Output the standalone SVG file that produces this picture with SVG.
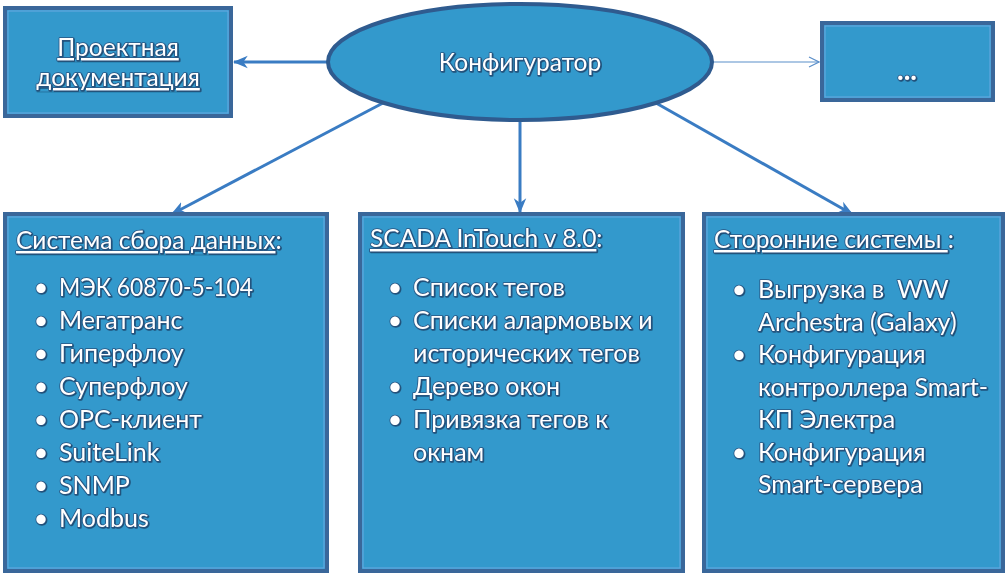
<svg xmlns="http://www.w3.org/2000/svg" width="1008" height="575" viewBox="0 0 1008 575">
<defs>
  <filter id="sh" x="-10%" y="-30%" width="120%" height="160%">
    <feDropShadow dx="0.8" dy="0.8" stdDeviation="0.6" flood-color="#17385c" flood-opacity="0.9"/>
  </filter>
  <marker id="ah" viewBox="0 0 12 10" refX="11" refY="5" markerWidth="5" markerHeight="4.5" orient="auto" markerUnits="strokeWidth">
    <path d="M0,0 L12,5 L0,10 L3.5,5 z" fill="#3a7cc3"/>
  </marker>
  <marker id="ahThin" viewBox="0 0 12 12" refX="11" refY="6" markerWidth="12" markerHeight="12" orient="auto" markerUnits="userSpaceOnUse">
    <path d="M1,1 L11,6 L1,11" fill="none" stroke="#5b8fc9" stroke-width="1.2"/>
  </marker>
</defs>
<style>
  .box { fill: #3399cc; stroke: #3a679a; stroke-width: 4; }
  .inner { fill: none; stroke: #6aa9e2; stroke-width: 1; }
  .t { font-family: Lato, "Liberation Sans", sans-serif; fill: #ffffff; stroke: #2a5785; stroke-width: 1.6; stroke-linejoin: round; paint-order: stroke; filter: url(#sh); }
  .h { font-size: 24.5px; }
  .i { font-size: 25px; }
  .b { font-size: 25px; }
  .u { text-decoration: underline; }
  .conn { fill: none; stroke: #3a7cc3; stroke-width: 3; }
  .thin { fill: none; stroke: #5b8fc9; stroke-width: 1.2; }
</style>
<rect width="1008" height="575" fill="#ffffff"/>

<g id="connectors">
  <line class="conn" x1="328" y1="62" x2="234" y2="62" marker-end="url(#ah)"/>
  <line class="thin" x1="712" y1="62" x2="819" y2="62" marker-end="url(#ahThin)"/>
  <line class="conn" x1="383" y1="103" x2="172" y2="214" marker-end="url(#ah)"/>
  <line class="conn" x1="520" y1="121" x2="520" y2="212" marker-end="url(#ah)"/>
  <line class="conn" x1="656" y1="103" x2="852" y2="214" marker-end="url(#ah)"/>
</g>

<g id="node-doc">
  <rect class="box" x="5" y="8" width="226" height="108"/>
  <rect class="inner" x="8" y="11" width="220" height="102"/>
  <text class="t h" x="118" y="56" text-anchor="middle"><tspan class="u">Проектная</tspan></text>
  <text class="t h" x="118" y="86" text-anchor="middle"><tspan class="u">документация</tspan></text>
</g>

<g id="node-configurator">
  <ellipse cx="520" cy="62" rx="192" ry="58" fill="#3399cc" stroke="#2f5b8f" stroke-width="4"/>
  <text class="t" x="520" y="71" font-size="24.5" text-anchor="middle">Конфигуратор</text>
</g>

<g id="node-more">
  <rect class="box" x="822" y="23" width="171" height="77"/>
  <rect class="inner" x="825" y="26" width="165" height="71"/>
  <text class="t" x="907" y="80" font-size="28" font-weight="bold" text-anchor="middle">...</text>
</g>

<g id="node-data">
  <rect class="box" x="5" y="214" width="322" height="357"/>
  <rect class="inner" x="8" y="217" width="316" height="351"/>
  <text class="t h" x="16" y="249"><tspan class="u">Система сбора данных</tspan>:</text>
  <g class="t b">
    <text x="41" y="296" text-anchor="middle">•</text>
    <text x="41" y="329" text-anchor="middle">•</text>
    <text x="41" y="362" text-anchor="middle">•</text>
    <text x="41" y="395" text-anchor="middle">•</text>
    <text x="41" y="428" text-anchor="middle">•</text>
    <text x="41" y="461" text-anchor="middle">•</text>
    <text x="41" y="494" text-anchor="middle">•</text>
    <text x="41" y="527" text-anchor="middle">•</text>
  </g>
  <g class="t i">
    <text x="59" y="296" textLength="194" lengthAdjust="spacingAndGlyphs">МЭК 60870-5-104</text>
    <text x="59" y="329">Мегатранс</text>
    <text x="59" y="362">Гиперфлоу</text>
    <text x="59" y="395">Суперфлоу</text>
    <text x="59" y="428">OPC-клиент</text>
    <text x="59" y="461">SuiteLink</text>
    <text x="59" y="494">SNMP</text>
    <text x="59" y="527">Modbus</text>
  </g>
</g>

<g id="node-scada">
  <rect class="box" x="360" y="214" width="323" height="357"/>
  <rect class="inner" x="363" y="217" width="317" height="351"/>
  <text class="t h" x="370" y="247"><tspan class="u">SCADA InTouch v 8.0</tspan>:</text>
  <g class="t b">
    <text x="395" y="296" text-anchor="middle">•</text>
    <text x="395" y="329" text-anchor="middle">•</text>
    <text x="395" y="395" text-anchor="middle">•</text>
    <text x="395" y="428" text-anchor="middle">•</text>
  </g>
  <g class="t i">
    <text x="413" y="296">Список тегов</text>
    <text x="413" y="329">Списки алармовых и</text>
    <text x="413" y="362">исторических тегов</text>
    <text x="413" y="395">Дерево окон</text>
    <text x="413" y="428">Привязка тегов к</text>
    <text x="413" y="461">окнам</text>
  </g>
</g>

<g id="node-third">
  <rect class="box" x="704" y="214" width="299" height="357"/>
  <rect class="inner" x="707" y="217" width="293" height="351"/>
  <text class="t h" x="714" y="248"><tspan class="u">Сторонние системы </tspan>:</text>
  <g class="t b">
    <text x="739" y="298" text-anchor="middle">•</text>
    <text x="739" y="363" text-anchor="middle">•</text>
    <text x="739" y="461" text-anchor="middle">•</text>
  </g>
  <g class="t i">
    <text x="758" y="298" xml:space="preserve">Выгрузка в  WW</text>
    <text x="758" y="331">Archestra (Galaxy)</text>
    <text x="758" y="363">Конфигурация</text>
    <text x="758" y="396">контроллера Smart-</text>
    <text x="758" y="428">КП Электра</text>
    <text x="758" y="461">Конфигурация</text>
    <text x="758" y="493">Smart-сервера</text>
  </g>
</g>
</svg>
